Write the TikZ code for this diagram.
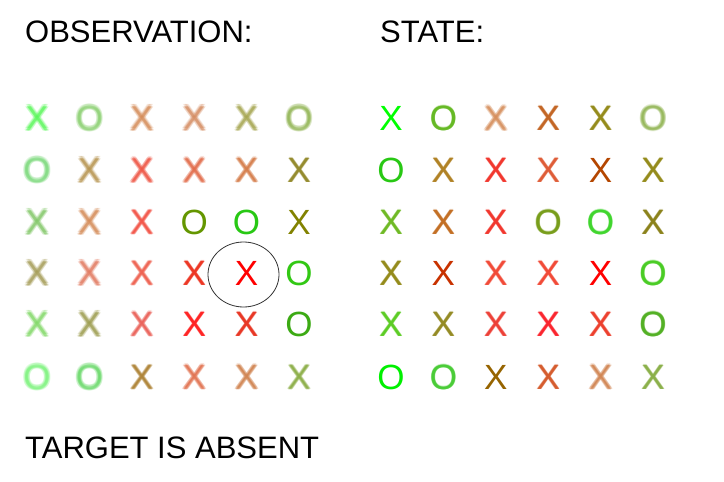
\documentclass[tikz,border=0pt]{standalone}
\usepackage{fontspec}
\setmainfont{Liberation Sans}
\tikzset{
  lt/.style={inner sep=0pt, font=\fontsize{35}{35}\selectfont},
  title/.style={inner sep=0pt, anchor=base west, font=\fontsize{31}{31}\selectfont},
  ring/.style={draw=black!80, line width=0.8pt}
}
% #1 name, #2 x, #3 y, #4 colour (rgb list), #5 letter, #6 blur radius
\newcommand\gridcell[6]{%
  \definecolor{tmpc}{RGB}{#4}%
  \ifdim #6pt>0.9pt
    \foreach \ang in {0,45,...,315}
      \node[lt, text=tmpc, text opacity=0.16] at ({#2+#6*cos(\ang)},{#3+#6*sin(\ang)}) {#5};
    \node[lt, text=tmpc, text opacity=0.35] (#1) at (#2,#3) {#5};
  \else\ifdim #6pt>0pt
    \foreach \ang in {0,90,180,270}
      \node[lt, text=tmpc, text opacity=0.3] at ({#2+#6*cos(\ang)},{#3+#6*sin(\ang)}) {#5};
    \node[lt, text=tmpc, text opacity=0.7] (#1) at (#2,#3) {#5};
  \else
    \node[lt, text=tmpc] (#1) at (#2,#3) {#5};
  \fi\fi
}
\begin{document}
\begin{tikzpicture}[x=1pt,y=-1pt]
\useasboundingbox (0,0) rectangle (724,482);
\node[title] (obs) at (25,42) {OBSERVATION:};
\node[title] (st) at (380,42) {STATE:};
\node[title] (tgt) at (25,458) {TARGET IS ABSENT};

% observation grid
\foreach \jj/\cc/\ll/\bl [count=\k] in {
  0/{60,245,60}/X/1.8, 1/{120,200,90}/O/1.7, 2/{205,120,60}/X/1.6, 3/{205,120,70}/X/1.6, 4/{150,150,50}/X/1.5, 5/{130,170,60}/O/1.5}
  \gridcell{o1\k}{37+52.4*\jj}{118}{\cc}{\ll}{\bl};
\foreach \jj/\cc/\ll/\bl [count=\k] in {
  0/{100,210,100}/O/1.7, 1/{170,130,50}/X/1.5, 2/{235,55,35}/X/1.4, 3/{220,80,40}/X/1.4, 4/{205,100,40}/X/1.3, 5/{140,130,30}/X/0.8}
  \gridcell{o2\k}{37+52.4*\jj}{170}{\cc}{\ll}{\bl};
\foreach \jj/\cc/\ll/\bl [count=\k] in {
  0/{110,190,80}/X/1.6, 1/{205,120,60}/X/1.5, 2/{240,55,40}/X/1.0, 3/{100,150,0}/O/0, 4/{40,200,20}/O/0, 5/{130,130,0}/X/0}
  \gridcell{o3\k}{37+52.4*\jj}{222}{\cc}{\ll}{\bl};
\foreach \jj/\cc/\ll/\bl [count=\k] in {
  0/{150,140,60}/X/1.6, 1/{220,100,70}/X/1.5, 2/{235,70,50}/X/1.0, 3/{235,40,20}/X/0.6, 4/{255,0,0}/X/0, 5/{50,200,20}/O/0}
  \gridcell{o4\k}{37+52.4*\jj}{273}{\cc}{\ll}{\bl};
\foreach \jj/\cc/\ll/\bl [count=\k] in {
  0/{110,210,80}/X/1.6, 1/{140,140,50}/X/1.5, 2/{230,70,60}/X/1.1, 3/{255,20,20}/X/0.5, 4/{230,40,20}/X/0.6, 5/{60,170,20}/O/0}
  \gridcell{o5\k}{37+52.4*\jj}{324}{\cc}{\ll}{\bl};
\foreach \jj/\cc/\ll/\bl [count=\k] in {
  0/{100,240,100}/O/1.8, 1/{80,210,80}/O/1.6, 2/{160,110,20}/X/1.0, 3/{220,90,50}/X/1.3, 4/{200,110,50}/X/1.3, 5/{120,160,40}/X/1.0}
  \gridcell{o6\k}{37+52.4*\jj}{377}{\cc}{\ll}{\bl};

\draw[ring] (243.5,274.5) ellipse [x radius=35.5, y radius=32.5];

% state grid
\foreach \jj/\cc/\ll/\bl [count=\k] in {
  0/{0,255,0}/X/0, 1/{90,180,20}/O/0.4, 2/{205,120,60}/X/1.4, 3/{190,90,20}/X/0.6, 4/{140,130,10}/X/0.6, 5/{130,170,60}/O/1.3}
  \gridcell{s1\k}{391+52.4*\jj}{118}{\cc}{\ll}{\bl};
\foreach \jj/\cc/\ll/\bl [count=\k] in {
  0/{40,200,20}/O/0, 1/{170,120,20}/X/0.5, 2/{240,40,30}/X/0.6, 3/{220,80,40}/X/0.7, 4/{180,70,0}/X/0, 5/{140,130,10}/X/0.5}
  \gridcell{s2\k}{391+52.4*\jj}{170}{\cc}{\ll}{\bl};
\foreach \jj/\cc/\ll/\bl [count=\k] in {
  0/{100,180,20}/X/0.5, 1/{190,100,20}/X/0.5, 2/{240,40,30}/X/0.6, 3/{110,150,10}/O/0.6, 4/{50,210,30}/O/0.5, 5/{130,120,10}/X/0.5}
  \gridcell{s3\k}{391+52.4*\jj}{222}{\cc}{\ll}{\bl};
\foreach \jj/\cc/\ll/\bl [count=\k] in {
  0/{140,130,10}/X/0.5, 1/{200,50,0}/X/0, 2/{240,60,40}/X/0.7, 3/{240,60,40}/X/0.7, 4/{255,0,0}/X/0, 5/{60,200,20}/O/0.5}
  \gridcell{s4\k}{391+52.4*\jj}{273}{\cc}{\ll}{\bl};
\foreach \jj/\cc/\ll/\bl [count=\k] in {
  0/{80,200,20}/X/0.6, 1/{140,130,20}/X/0.5, 2/{235,50,40}/X/0.7, 3/{250,20,30}/X/0.6, 4/{235,50,30}/X/0.6, 5/{70,170,20}/O/0.4}
  \gridcell{s5\k}{391+52.4*\jj}{324}{\cc}{\ll}{\bl};
\foreach \jj/\cc/\ll/\bl [count=\k] in {
  0/{0,240,0}/O/0, 1/{60,200,40}/O/0.5, 2/{150,100,0}/X/0, 3/{210,80,30}/X/0.6, 4/{200,110,50}/X/1.3, 5/{130,170,60}/X/0.8}
  \gridcell{s6\k}{391+52.4*\jj}{377}{\cc}{\ll}{\bl};
\end{tikzpicture}
\end{document}
